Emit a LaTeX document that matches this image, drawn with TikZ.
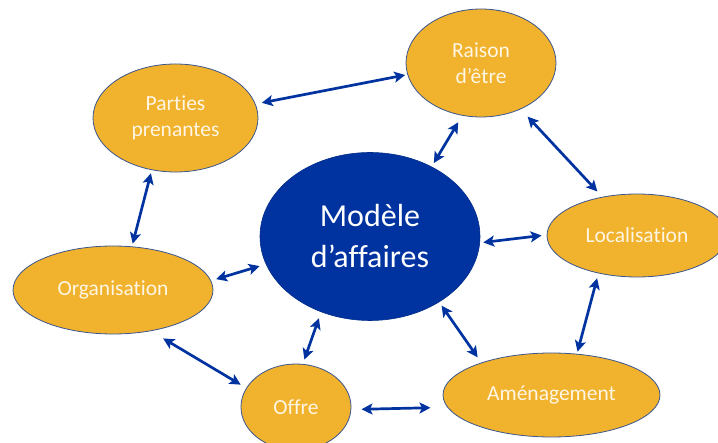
\documentclass[tikz,border=0pt]{standalone}
\usepackage{fontspec}
\setmainfont{Carlito}[Ligatures={NoCommon}]
\usetikzlibrary{shapes.geometric,arrows.meta,calc}
\definecolor{gold}{HTML}{F1B22D}
\definecolor{navy}{HTML}{0033A0}
\definecolor{rim}{HTML}{3A5590}
\definecolor{cream}{HTML}{FFF6E4}
\begin{document}
\begin{tikzpicture}[x=1pt,y=-1pt,
  satellite/.style={ellipse, draw=rim, line width=0.8pt, fill=gold, text=cream,
    inner sep=0pt, font=\fontsize{21.5}{26}\selectfont, align=center},
  hub/.style={ellipse, fill=navy, draw=navy!85!black, line width=0.6pt, text=white,
    inner sep=0pt, font=\fontsize{32}{41}\selectfont, align=center},
  link/.style={draw=navy, line width=2.7pt,
    {Stealth[length=11pt,width=11pt,inset=2.5pt]}-{Stealth[length=11pt,width=11pt,inset=2.5pt]}}]
\useasboundingbox (0,0) rectangle (718,443);
\node[hub, minimum width=220pt, minimum height=168pt] (M) at (370,236.5) {Modèle\\d’affaires};
\node[satellite, minimum width=165pt, minimum height=108pt] (P) at (175.5,118) {Parties\\prenantes};
\node[satellite, minimum width=150pt, minimum height=108pt] (R) at (481,63) {Raison\\d’être};
\node[satellite, minimum width=180pt, minimum height=83pt] (L) at (637,235.5) {Localisation};
\node[satellite, minimum width=200pt, minimum height=88pt] (O) at (113,290) {Organisation};
\node[satellite, minimum width=110pt, minimum height=86pt] (F) at (296,407) {Offre};
\node[satellite, minimum width=217pt, minimum height=84pt] (A) at (551.5,395) {Aménagement};
\draw[link] ($(P)!1.078!(P.10.6)$) -- ($(R)!1.029!(R.189.8)$);
\draw[link] ($(R)!1.131!(R.249.6)$) -- ($(M)!1.046!(M.49.4)$);
\draw[link] ($(R)!1.164!(R.311.6)$) -- ($(L)!1.138!(L.132.6)$);
\draw[link] ($(M)!1.029!(M.357.2)$) -- ($(L)!1.056!(L.180.9)$);
\draw[link] ($(L)!1.112!(L.227.5)$) -- ($(A)!1.050!(A.59.3)$);
\draw[link] ($(M)!1.046!(M.316.4)$) -- ($(A)!1.117!(A.153.6)$);
\draw[link] ($(M)!1.075!(M.238.0)$) -- ($(F)!1.103!(F.80.3)$);
\draw[link] ($(F)!1.183!(F.358.2)$) -- ($(A)!1.151!(A.186.7)$);
\draw[link] ($(O)!1.200!(O.316.2)$) -- ($(F)!1.123!(F.158.2)$);
\draw[link] ($(O)!1.056!(O.6.7)$) -- ($(M)!1.060!(M.195.0)$);
\draw[link] ($(P)!1.058!(P.246.9)$) -- ($(O)!1.063!(O.67.6)$);
\end{tikzpicture}
\end{document}
